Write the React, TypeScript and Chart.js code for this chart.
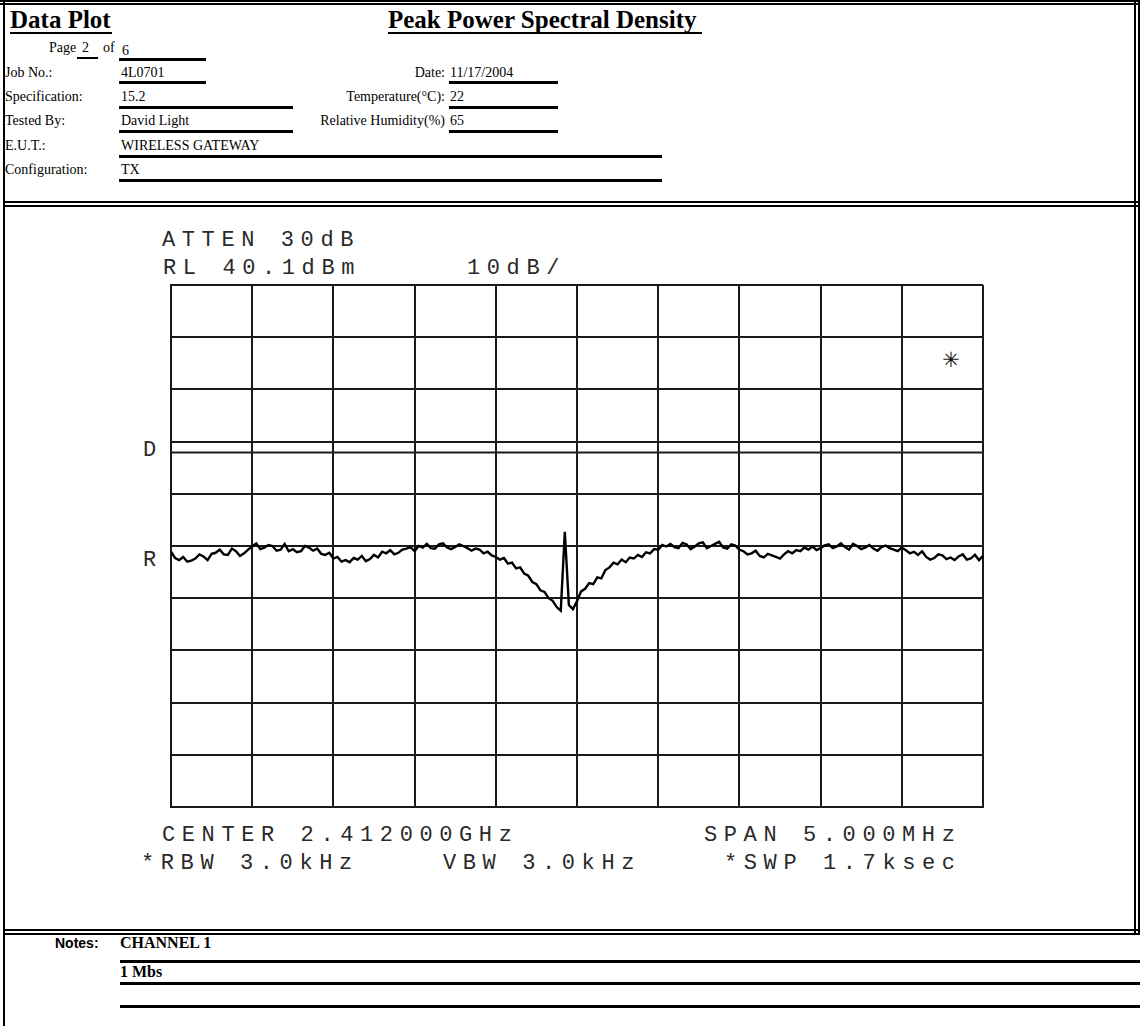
import React, { useEffect, useRef } from "react";
import { Chart, registerables } from "chart.js";

Chart.register(...registerables);

// ---- Spectrum analyzer settings ----
const SWEEP_START_MHZ = -2.5; // relative to CENTER 2.412000 GHz
const SWEEP_STOP_MHZ = 2.5;
const X_GRID_MHZ = [-2.5, -2.0, -1.5, -1.0, -0.5, 0, 0.5, 1.0, 1.5, 2.0, 2.5];
const Y_GRID_DBM = [40.1, 30.1, 20.1, 10.1, 0.1, -9.9, -19.9, -29.9, -39.9, -49.9, -59.9];
const REF_LEVEL_DBM = 40.1;
const BOTTOM_LEVEL_DBM = -59.9;
const DISPLAY_LINE_DBM = 8;

// ---- Trace (dBm), 201 sweep points ----
const TRACE_DBM = [
  -11.0, -12.2, -12.6, -12.0, -12.9, -12.7, -12.3, -11.5, -11.9, -12.6,
  -11.4, -11.2, -10.6, -11.5, -11.6, -10.4, -10.9, -11.8, -11.3, -10.6,
  -10.0, -9.4, -10.5, -10.2, -9.7, -9.9, -10.8, -10.6, -9.5, -10.9,
  -10.5, -11.1, -10.9, -9.9, -10.2, -10.8, -10.4, -11.4, -11.6, -11.2,
  -12.3, -12.0, -12.9, -12.6, -13.0, -12.2, -12.5, -11.8, -12.8, -12.4,
  -11.6, -12.1, -11.0, -11.3, -10.7, -11.5, -11.2, -10.6, -10.4, -10.1,
  -10.9, -9.9, -10.2, -9.5, -10.3, -10.4, -9.6, -9.4, -10.2, -10.5,
  -10.1, -9.6, -9.9, -10.3, -10.8, -10.4, -10.6, -11.3, -11.0, -11.7,
  -12.0, -12.5, -12.2, -13.3, -13.1, -14.2, -14.0, -15.2, -15.6, -16.8,
  -17.2, -18.4, -18.7, -19.9, -20.4, -21.6, -22.3, -7.2, -21.2, -22.0,
  -20.5, -18.6, -18.1, -17.0, -17.2, -15.9, -16.1, -14.5, -14.0, -13.1,
  -13.4, -12.5, -13.0, -12.1, -12.3, -11.6, -12.0, -11.1, -11.3, -10.5,
  -10.6, -9.7, -10.0, -9.5, -10.1, -10.3, -9.3, -9.6, -10.5, -10.0,
  -9.4, -9.2, -10.3, -9.9, -9.5, -9.1, -10.2, -10.4, -9.6, -9.8,
  -10.6, -10.9, -11.5, -11.3, -10.8, -11.8, -12.1, -11.4, -11.7, -12.0,
  -12.3, -11.5, -10.9, -11.3, -10.7, -10.9, -10.2, -10.6, -10.0, -10.7,
  -10.3, -9.8, -9.6, -10.3, -10.0, -9.4, -10.1, -10.6, -9.5, -9.9,
  -10.5, -10.2, -9.7, -10.4, -10.8, -10.1, -9.8, -10.3, -10.6, -10.9,
  -10.2, -10.7, -11.3, -11.0, -11.6, -10.9, -12.0, -12.5, -12.2, -11.5,
  -11.7, -12.4, -12.1, -12.6, -11.9, -11.5, -12.5, -12.3, -11.6, -12.6, -11.8,
];

// ---- Fonts ----
const SERIF = "'Liberation Serif', 'Times New Roman', serif";
const MONO = "'Liberation Mono', 'DejaVu Sans Mono', monospace";
const NARROW = "'Liberation Sans Narrow', 'Liberation Sans', Arial, sans-serif";
const K_SERIF = 0.8375;
const K_MONO = 0.766;
const K_SANS = 0.846;

type TProps = {
  x?: number;
  right?: number;
  base: number;
  fs: number;
  ff: string;
  k: number;
  bold?: boolean;
  ls?: number;
  color?: string;
  children: React.ReactNode;
};

function T({ x, right, base, fs, ff, k, bold, ls, color, children }: TProps) {
  const style: React.CSSProperties = {
    position: "absolute",
    top: base - k * fs,
    fontSize: fs,
    lineHeight: `${fs}px`,
    fontFamily: ff,
    fontWeight: bold ? 700 : 400,
    whiteSpace: "pre",
    letterSpacing: ls ? `${ls}px` : undefined,
    color: color || "#000",
  };
  if (right !== undefined) {
    style.left = right - 400;
    style.width = 400;
    style.textAlign = "right";
  } else {
    style.left = x;
  }
  return <div style={style}>{children}</div>;
}

function HL({ x1, x2, y, t }: { x1: number; x2: number; y: number; t: number }) {
  return (
    <div style={{ position: "absolute", left: x1, top: y, width: x2 - x1, height: t, background: "#000" }} />
  );
}
function VL({ x, y1, y2, t }: { x: number; y1: number; y2: number; t: number }) {
  return (
    <div style={{ position: "absolute", left: x, top: y1, width: t, height: y2 - y1, background: "#000" }} />
  );
}

const ANA = { ff: MONO, k: K_MONO, fs: 22, ls: 6.6, color: "#2a2a2a" };
const ROW = { fs: 14, ff: SERIF, k: K_SERIF };

export default function App() {
  const canvasRef = useRef<HTMLCanvasElement | null>(null);

  useEffect(() => {
    const canvas = canvasRef.current;
    if (!canvas) return;
    const n = TRACE_DBM.length;
    const step = (SWEEP_STOP_MHZ - SWEEP_START_MHZ) / (n - 1);
    const trace = TRACE_DBM.map((v, i) => ({ x: SWEEP_START_MHZ + i * step, y: v }));
    const gridColor = "#1a1a1a";
    const chart = new Chart(canvas, {
      type: "line",
      data: {
        datasets: [
          {
            data: trace,
            borderColor: "#000",
            borderWidth: 2.4,
            pointRadius: 0,
            tension: 0,
            borderJoinStyle: "miter",
          },
          {
            data: [
              { x: SWEEP_START_MHZ, y: DISPLAY_LINE_DBM },
              { x: SWEEP_STOP_MHZ, y: DISPLAY_LINE_DBM },
            ],
            borderColor: gridColor,
            borderWidth: 2,
            pointRadius: 0,
          },
        ],
      },
      options: {
        responsive: false,
        animation: false,
        devicePixelRatio: 1,
        events: [],
        layout: { padding: { left: 10, right: 10, top: 10, bottom: 10 } },
        plugins: { legend: { display: false }, tooltip: { enabled: false }, title: { display: false } },
        scales: {
          x: {
            type: "linear",
            min: SWEEP_START_MHZ,
            max: SWEEP_STOP_MHZ,
            afterBuildTicks: (s: any) => {
              s.ticks = X_GRID_MHZ.map((v) => ({ value: v }));
            },
            ticks: { display: false },
            grid: { color: gridColor, lineWidth: 2, drawTicks: false },
            border: { display: true, color: gridColor, width: 2 },
          },
          y: {
            type: "linear",
            min: BOTTOM_LEVEL_DBM,
            max: REF_LEVEL_DBM,
            afterBuildTicks: (s: any) => {
              s.ticks = Y_GRID_DBM.map((v) => ({ value: v }));
            },
            ticks: { display: false },
            grid: { color: gridColor, lineWidth: 2, drawTicks: false },
            border: { display: true, color: gridColor, width: 2 },
          },
        },
      },
    });
    return () => chart.destroy();
  }, []);

  return (
    <div
      style={{
        position: "absolute",
        left: 0,
        top: 0,
        width: 1140,
        height: 1026,
        background: "#fff",
        overflow: "hidden",
      }}
    >
      {/* frame */}
      <HL x1={0} x2={1140} y={0} t={2} />
      <HL x1={0} x2={1140} y={3} t={2} />
      <VL x={3} y1={0} y2={1026} t={2} />
      <VL x={1134} y1={0} y2={935} t={2} />
      <VL x={1138} y1={0} y2={935} t={2} />
      <HL x1={3} x2={1140} y={201} t={2} />
      <HL x1={3} x2={1140} y={205} t={2} />
      <HL x1={3} x2={1140} y={929} t={2} />
      <HL x1={3} x2={1140} y={933} t={2} />

      {/* header */}
      <T x={10} base={28} fs={25} ff={SERIF} k={K_SERIF} bold>Data Plot</T>
      <HL x1={10} x2={112} y={32} t={2} />
      <T x={388} base={28} fs={25} ff={SERIF} k={K_SERIF} bold>Peak Power Spectral Density</T>
      <HL x1={388} x2={702} y={32} t={2} />

      <T x={49} base={53} {...ROW}>Page</T>
      <T x={82} base={53} {...ROW}>2</T>
      <HL x1={77} x2={98} y={57} t={1.5} />
      <T x={103} base={53} {...ROW}>of</T>
      <T x={122} base={56} {...ROW}>6</T>
      <HL x1={119} x2={206} y={58} t={3} />

      <T x={5} base={77.5} {...ROW}>Job No.:</T>
      <T x={121} base={77.5} {...ROW}>4L0701</T>
      <HL x1={119} x2={206} y={81} t={3} />
      <T right={445} base={77.5} {...ROW}>Date:</T>
      <T x={450} base={77.5} {...ROW}>11/17/2004</T>
      <HL x1={449} x2={558} y={81} t={3} />

      <T x={5} base={102} {...ROW}>Specification:</T>
      <T x={121} base={102} {...ROW}>15.2</T>
      <HL x1={119} x2={293} y={106} t={3} />
      <T right={445} base={102} {...ROW}>Temperature(°C):</T>
      <T x={450} base={102} {...ROW}>22</T>
      <HL x1={449} x2={558} y={106} t={3} />

      <T x={5} base={126} {...ROW}>Tested By:</T>
      <T x={121} base={126} {...ROW}>David Light</T>
      <HL x1={119} x2={293} y={130} t={3} />
      <T right={445} base={126} {...ROW}>Relative Humidity(%)</T>
      <T x={450} base={126} {...ROW}>65</T>
      <HL x1={449} x2={558} y={130} t={3} />

      <T x={5} base={151} {...ROW}>E.U.T.:</T>
      <T x={121} base={151} {...ROW}>WIRELESS GATEWAY</T>
      <HL x1={119} x2={662} y={155} t={3} />

      <T x={5} base={175} {...ROW}>Configuration:</T>
      <T x={121} base={175} {...ROW}>TX</T>
      <HL x1={119} x2={662} y={179} t={3} />

      {/* analyzer annotations */}
      <T x={162} base={247} {...ANA}>ATTEN 30dB</T>
      <T x={163} base={275} {...ANA}>RL 40.1dBm</T>
      <T x={467} base={275} {...ANA}>10dB/</T>
      <T x={143} base={457} {...ANA}>D</T>
      <T x={143} base={567} {...ANA}>R</T>
      <div
        style={{
          position: "absolute",
          left: 940,
          top: 348,
          width: 22,
          height: 24,
          fontSize: 21,
          lineHeight: "24px",
          textAlign: "center",
          fontFamily: "'DejaVu Sans', sans-serif",
          color: "#111",
        }}
      >
        {"\u2733\uFE0E"}
      </div>
      <T x={162} base={842} {...ANA}>CENTER 2.412000GHz</T>
      <T x={704} base={842} {...ANA}>SPAN 5.000MHz</T>
      <T x={141} base={870} {...ANA}>*RBW 3.0kHz</T>
      <T x={443} base={870} {...ANA}>VBW 3.0kHz</T>
      <T x={724} base={870} {...ANA}>*SWP 1.7ksec</T>

      {/* chart */}
      <div style={{ position: "absolute", left: 161, top: 275, width: 832, height: 542 }}>
        <canvas ref={canvasRef} width={832} height={542} style={{ width: 832, height: 542, display: "block" }} />
      </div>

      {/* notes */}
      <T x={55} base={948} fs={14} ff={NARROW} k={K_SANS} bold>Notes:</T>
      <T x={120} base={948} fs={16} ff={SERIF} k={K_SERIF} bold>CHANNEL 1</T>
      <HL x1={120} x2={1140} y={960} t={3} />
      <T x={120} base={977} fs={16} ff={SERIF} k={K_SERIF} bold>1 Mbs</T>
      <HL x1={120} x2={1140} y={982} t={3} />
      <HL x1={120} x2={1140} y={1005} t={3} />
    </div>
  );
}
